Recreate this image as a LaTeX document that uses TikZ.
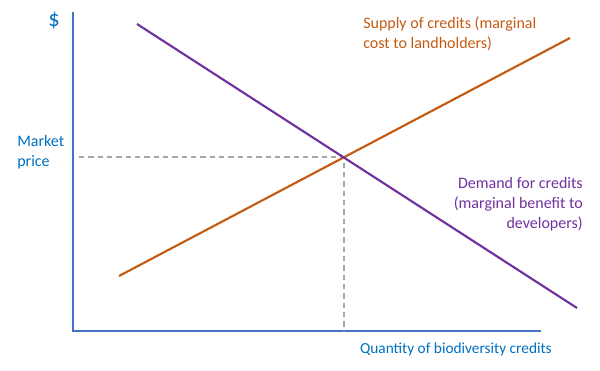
\documentclass[tikz,border=0pt]{standalone}
\usepackage{fontspec}
\setmainfont{Carlito}
\definecolor{axisblue}{HTML}{4472C4}
\definecolor{textblue}{HTML}{0070C0}
\definecolor{supplyc}{HTML}{C55A11}
\definecolor{demandc}{HTML}{7030A0}
\definecolor{dashg}{HTML}{A6A6A6}
\begin{document}
\begin{tikzpicture}[x=0.75pt,y=-0.75pt,
  axis/.style={draw=axisblue,line width=1.8pt},
  curve/.style={line width=1.6pt},
  guide/.style={draw=dashg,line width=0.9pt,dash pattern=on 4pt off 3pt},
  lbl/.style={font=\fontsize{12}{15}\selectfont,inner sep=0pt}]
\useasboundingbox (0,0) rectangle (600,371);
\coordinate (top) at (73,12);
\coordinate (origin) at (73,331);
\coordinate (xend) at (541,331);
\draw[axis] (top) -- (origin) -- (xend);
\coordinate (d1) at (137,24);
\coordinate (d2) at (577,308);
\coordinate (s1) at (119,276);
\coordinate (s2) at (570,38);
\coordinate (eq) at (344,157);
\coordinate (py) at (79,157);
\coordinate (qx) at (344,331);
\draw[guide] (py) -- (eq) -- (qx);
\draw[curve,draw=supplyc] (s1) -- (s2);
\draw[curve,draw=demandc] (d1) -- (d2);
\node[lbl,text=textblue] (dollar) at (54,21) {\fontsize{17}{17}\selectfont\$};
\node[lbl,text=textblue,align=left,anchor=north west] (mp) at (17,135) {Market\\price};
\node[lbl,text=textblue,anchor=east] (qty) at (552,349) {\fontsize{11.5}{15}\selectfont Quantity of biodiversity credits};
\node[lbl,text=supplyc,align=left,anchor=north west] (sup) at (363,17) {Supply of credits (marginal\\cost to landholders)};
\node[lbl,text=demandc,align=right,anchor=north east] (dem) at (583,177) {Demand for credits\\(marginal benefit to\\developers)};
\end{tikzpicture}
\end{document}
